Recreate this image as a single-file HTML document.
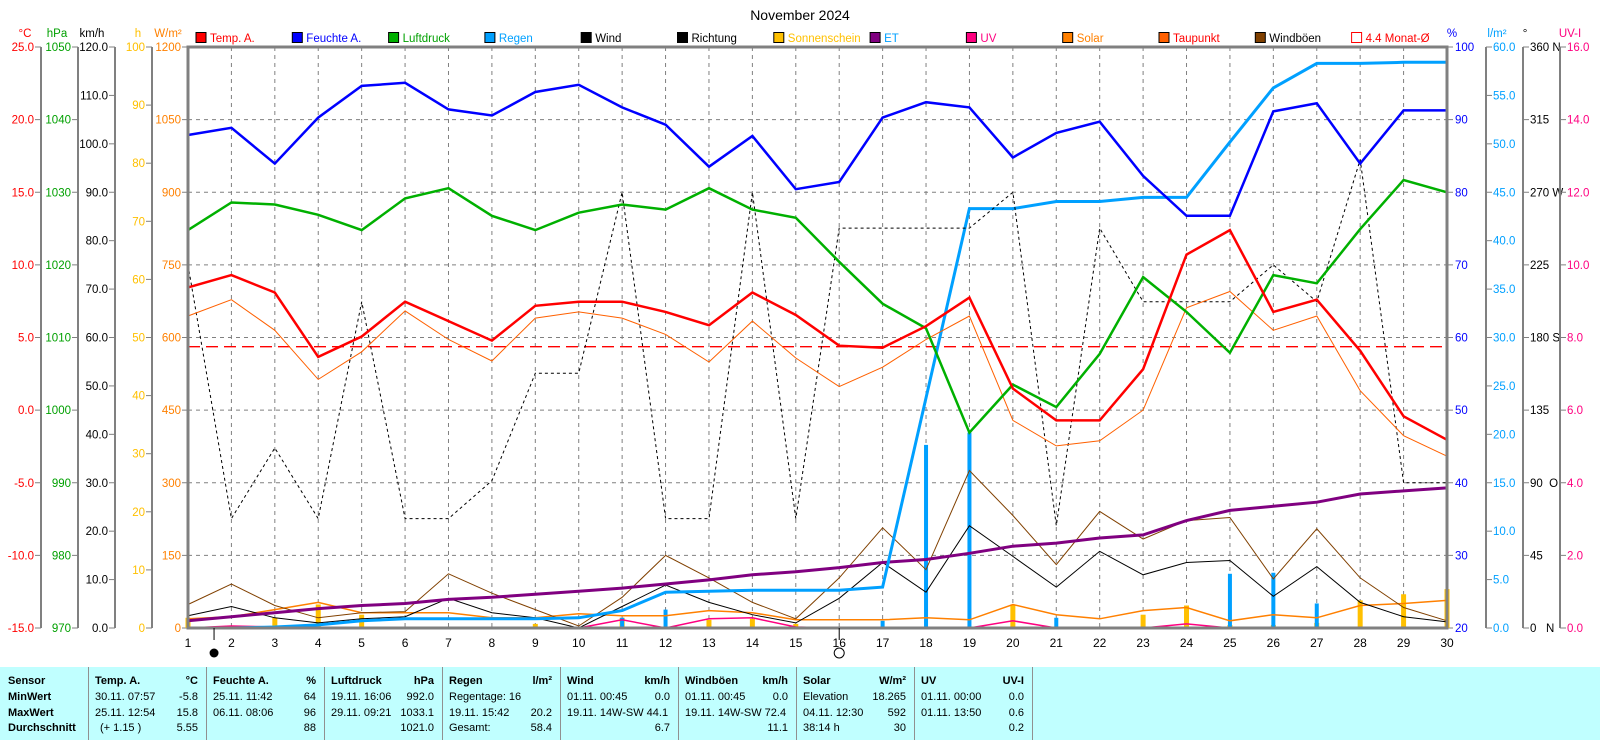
<!DOCTYPE html>
<html><head><meta charset="utf-8">
<style>
html,body{margin:0;padding:0;background:#fff;width:1600px;height:740px;overflow:hidden;font-family:"Liberation Sans",sans-serif;}
#tbl{position:absolute;left:0;top:667px;width:1600px;height:73px;background:#C0FFFF;font-size:11px;}
.c{position:absolute;top:0;height:73px;border-left:1px solid #909090;}
.t{position:absolute;white-space:nowrap;}
.b{font-weight:bold;}
</style></head><body>
<svg id="s" width="1600" height="667" style="position:absolute;left:0;top:0" font-family="Liberation Sans, sans-serif" font-size="11.5"></svg>
<div id="tbl"></div>
<script>
const S=document.getElementById('s');
let h='';
const L=188,R=1447,T=47,B=628;
const dx=(R-L)/29;
const X=d=>L+(d-1)*dx;
const Y=p=>B-((615-p)/568)*(B-T);
for(let i=1;i<8;i++){const y=T+i*(B-T)/8;h+=`<line x1="${L}" y1="${y}" x2="${R}" y2="${y}" stroke="#808080" stroke-dasharray="4,4"/>`;}
for(let d=2;d<30;d++){h+=`<line x1="${X(d)}" y1="${T}" x2="${X(d)}" y2="${B}" stroke="#808080" stroke-dasharray="4,4"/>`;}
function axis(x,labs,col,right){const n=labs.length-1;
 h+=`<line x1="${x}" y1="${T}" x2="${x}" y2="${B}" stroke="#808080" stroke-width="2"/>`;
 labs.forEach((l,i)=>{const y=T+i*(B-T)/n;
  if(right){h+=`<line x1="${x}" y1="${y}" x2="${x+6}" y2="${y}" stroke="#808080"/><text x="${x+7}" y="${y+4}" fill="${col}" xml:space="preserve">${l}</text>`;}
  else{h+=`<line x1="${x-6}" y1="${y}" x2="${x}" y2="${y}" stroke="#808080"/><text x="${x-7}" y="${y+4}" fill="${col}" text-anchor="end">${l}</text>`;}
 });}
const rng=(a,b,s,f)=>{let r=[];for(let v=a;v>=b-1e-9;v-=s)r.push(f(v));return r;};
axis(41,rng(25,-15,5,v=>v.toFixed(1)),'#FF0000',false);
axis(78,rng(1050,970,10,v=>v),'#00A000',false);
axis(115,rng(120,0,10,v=>v.toFixed(1)),'#000',false);
axis(152,rng(100,0,10,v=>v),'#FFC000',false);
rng(1200,0,150,v=>v).forEach((l,i)=>{const y=T+i*(B-T)/8;h+=`<line x1="${L-6}" y1="${y}" x2="${L}" y2="${y}" stroke="#808080"/><text x="${L-7}" y="${y+4}" fill="#FF8000" text-anchor="end">${l}</text>`;});
rng(100,20,10,v=>v).forEach((l,i)=>{const y=T+i*(B-T)/8;h+=`<line x1="${R}" y1="${y}" x2="${R+6}" y2="${y}" stroke="#808080"/><text x="${R+8}" y="${y+4}" fill="#0000FF">${l}</text>`;});
axis(1486,rng(60,0,5,v=>v.toFixed(1)),'#00A0FF',true);
axis(1523,['360 N','315','270 W','225','180 S','135','90  O','45','0   N'],'#000',true);
axis(1560,rng(16,0,2,v=>v.toFixed(1)),'#FF0080',true);
[['°C',25,'#FF0000'],['hPa',57,'#00A000'],['km/h',92,'#000'],['h',138,'#FFC000'],['W/m²',168,'#FF8000'],['%',1452,'#0000FF'],['l/m²',1497,'#00A0FF'],['°',1525,'#000'],['UV-I',1570,'#FF0080']].forEach(a=>{h+=`<text x="${a[1]}" y="37" fill="${a[2]}" text-anchor="middle">${a[0]}</text>`;});
h+=`<text x="800" y="20" font-size="14" text-anchor="middle">November 2024</text>`;
const lg=[['Temp. A.','#FF0000','#FF0000'],['Feuchte A.','#0000FF','#0000FF'],['Luftdruck','#00B000','#00A000'],['Regen','#00A0FF','#00A0FF'],['Wind','#000','#000'],['Richtung','#000','#000'],['Sonnenschein','#FFC000','#FFC000'],['ET','#800080','#00A0FF'],['UV','#FF0080','#FF0080'],['Solar','#FF8000','#FF8000'],['Taupunkt','#FF6000','#FF0000'],['Windböen','#804000','#000'],['4.4 Monat-Ø','none','#FF0000']];
lg.forEach((a,i)=>{const x=196+i*96.3;h+=`<rect x="${x}" y="32.5" width="10" height="10" fill="${a[1]=='none'?'#fff':a[1]}" stroke="${a[1]=='none'?'#FF0000':'#000'}"/><text x="${x+14}" y="42" fill="${a[2]}">${a[0]}</text>`;});
function line(arr,col,w,dash){h+=`<polyline fill="none" stroke="${col}" stroke-width="${w}" ${dash?'stroke-dasharray="'+dash+'"':''} points="${arr.map((p,i)=>X(i+1).toFixed(1)+','+Y(p).toFixed(1)).join(' ')}"/>`;}
h+=`<line x1="${L}" y1="${Y(340)}" x2="${R}" y2="${Y(340)}" stroke="#FF0000" stroke-width="1.3" stroke-dasharray="12,6"/>`;
[[1,605],[3,605],[4,592],[5,602],[9,611],[11,605],[13,607],[14,606],[15,611],[20,592],[23,602],[24,593],[25,612],[26,612],[27,610],[28,588],[29,582],[30,577]].forEach(a=>{h+=`<rect x="${X(a[0])-2.5}" y="${Y(a[1])}" width="5" height="${B-Y(a[1])}" fill="#FFC000"/>`;});
[[18,436],[19,424],[25,562],[26,561],[27,591],[12,597],[11,605],[21,605],[17,608]].forEach(a=>{h+=`<rect x="${X(a[0])-2}" y="${Y(a[1])}" width="4" height="${B-Y(a[1])}" fill="#00A0FF"/>`;});
line([615,613,614,615,615,615,615,615,615,615,607,615,606,605,614,615,615,615,615,608,615,615,615,611,615,615,615,615,615,615],'#FF0080',1.5);
line([606,604,597,590,600,600,600,605,605,601,603,603,598,600,607,607,607,605,607,592,602,606,598,595,608,602,605,593,591,588],'#FF8000',1.5);
line([592,572,593,605,600,599,562,581,597,613,585,544,566,590,606,566,517,558,461,505,553,501,528,510,507,567,518,566,595,608],'#804000',1);
line([603,594,605,610,606,604,586,600,605,615,594,573,590,602,610,586,551,580,515,545,575,540,563,551,549,584,555,590,604,609],'#000',1);
line([608,604,600,596,593,591,587,585,582,579,576,572,568,563,560,556,551,548,542,535,532,527,524,510,500,496,492,484,481,478],'#800080',3);
line([615,615,614,612,608,606,606,606,606,605,598,580,579,578,578,578,575,390,205,205,198,198,194,194,140,87,63,63,62,62],'#00A0FF',3);
line([260,508,439,508,296,508,508,471,366,366,189,508,508,189,508,224,224,224,224,189,515,224,296,296,296,260,296,157,473,473],'#000',1,'3,3');
line([310,294,324,372,345,305,333,354,312,306,312,328,355,315,351,379,360,333,310,412,437,432,402,302,286,324,310,383,427,447],'#FF6000',1);
line([226,199,201,211,226,195,185,212,226,209,201,206,185,206,214,257,298,322,424,377,399,347,272,306,346,270,278,225,177,189],'#00B000',2.5);
line([133,126,161,116,85,82,108,114,91,84,106,123,164,134,186,179,116,101,106,155,131,120,173,212,212,110,102,161,109,109],'#0000FF',2.5);
line([282,270,287,350,330,296,315,334,300,296,296,306,319,287,309,339,341,320,292,381,412,412,362,250,226,306,294,344,408,431],'#FF0000',2.5);
h+=`<rect x="${L}" y="${T}" width="${R-L}" height="${B-T}" fill="none" stroke="#808080" stroke-width="3"/>`;
for(let d=1;d<=30;d++){h+=`<text x="${X(d)}" y="647" text-anchor="middle" font-size="12">${d}</text>`;}
h+=`<line x1="${X(1.6)}" y1="628" x2="${X(1.6)}" y2="640" stroke="#000"/><circle cx="${X(1.6)}" cy="653" r="4.5" fill="#000"/>`;
h+=`<line x1="${X(16)}" y1="628" x2="${X(16)}" y2="640" stroke="#000"/><circle cx="${X(16)}" cy="653" r="5" fill="#fff" stroke="#000"/>`;
S.innerHTML=h;
const tb=document.getElementById('tbl');let t='';
const rows=[15,31,47,62];
function cell(x,y,s,bold,right){t+=`<div class="t${bold?' b':''}" style="${right?'right:'+(1600-x)+'px':'left:'+x+'px'};top:${y-7}px">${s}</div>`;}
['Sensor','MinWert','MaxWert','Durchschnitt'].forEach((s,i)=>cell(8,rows[i],s,true));
const data=[
 ['Temp. A.','°C',['30.11.  07:57','-5.8'],['25.11.  12:54','15.8'],['(+ 1.15 )','5.55']],
 ['Feuchte A.','%',['25.11.  11:42','64'],['06.11.  08:06','96'],['','88']],
 ['Luftdruck','hPa',['19.11.  16:06','992.0'],['29.11.  09:21','1033.1'],['','1021.0']],
 ['Regen','l/m²',['Regentage: 16',''],['19.11.  15:42','20.2'],['Gesamt:','58.4']],
 ['Wind','km/h',['01.11.  00:45','0.0'],['19.11.  14W-SW 44.1',''],['','6.7']],
 ['Windböen','km/h',['01.11.  00:45','0.0'],['19.11.  14W-SW 72.4',''],['','11.1']],
 ['Solar','W/m²',['Elevation','18.265'],['04.11.  12:30','592'],['38:14 h','30']],
 ['UV','UV-I',['01.11.  00:00','0.0'],['01.11.  13:50','0.6'],['','0.2']]];
data.forEach((d,i)=>{const x0=88+i*118;t+=`<div class="c" style="left:${x0}px"></div>`;
 cell(x0+7,rows[0],d[0],true);cell(x0+110,rows[0],d[1],true,true);
 for(let r=1;r<4;r++){const v=d[r+1];if(v[0])cell(v[0][0]=='('?x0+12:x0+7,rows[r],v[0]);if(v[1])cell(x0+110,rows[r],v[1],false,true);}
});
t+=`<div class="c" style="left:1032px"></div>`;
tb.innerHTML=t;
</script>
</body></html>
